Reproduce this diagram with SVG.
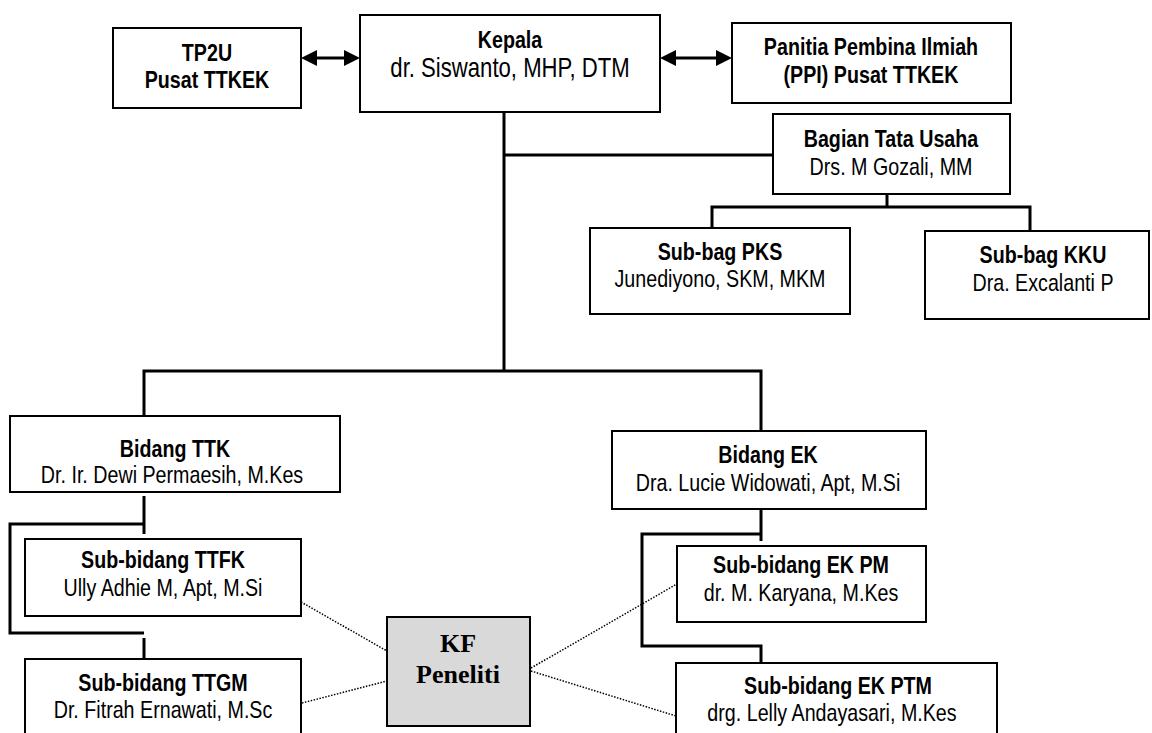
<svg xmlns="http://www.w3.org/2000/svg" width="1152" height="733" viewBox="0 0 1152 733">
<defs>
<style>
.box{fill:#fff;stroke:#000;stroke-width:2}
.kf{fill:#d9d9d9;stroke:#000;stroke-width:2}
.t{font-family:'Liberation Sans',Arial,sans-serif;font-size:24px;text-anchor:middle;fill:#000}
.b{font-weight:bold}
.big{font-size:27px}
.kt{font-family:'Liberation Serif','Times New Roman',serif;font-size:26px;font-weight:bold;text-anchor:middle;fill:#000}
.ln{fill:none;stroke:#000;stroke-width:3}
.dot{fill:none;stroke:#000;stroke-width:1.5;stroke-dasharray:1.5 1.5}
</style>
<marker id="ah" viewBox="0 0 16 16" refX="2" refY="8" markerWidth="16" markerHeight="16" markerUnits="userSpaceOnUse" orient="auto-start-reverse">
<path d="M0,0 L16,8 L0,16 z" fill="#000"/>
</marker>
</defs>
<rect width="1152" height="733" fill="#fff"/>
<g id="connectors">
<line class="ln" x1="315" y1="58" x2="346" y2="58" marker-start="url(#ah)" marker-end="url(#ah)"/>
<line class="ln" x1="674" y1="58" x2="718" y2="58" marker-start="url(#ah)" marker-end="url(#ah)"/>
<path class="ln" d="M504,112 V371"/>
<path class="ln" d="M504,155 H773"/>
<path class="ln" d="M887,194 V207"/>
<path class="ln" d="M712,228 V207 H1030 V231"/>
<path class="ln" d="M144,416 V371 H761 V431"/>
<path class="ln" d="M144,496 V534"/>
<path class="ln" d="M144,524 H10 V633 H144"/>
<path class="ln" d="M144,638 V661"/>
<path class="ln" d="M761,509 V541"/>
<path class="ln" d="M761,534 H642 V646 H761 V663"/>
<path class="dot" d="M301,602 L387,651"/>
<path class="dot" d="M302,703 L387,681"/>
<path class="dot" d="M531,668 L677,584"/>
<path class="dot" d="M531,671 L676,716"/>
</g>
<g id="tp2u"><rect class="box" x="113" y="28" width="188" height="80"/>
<text class="t b" transform="scale(0.82 1)" x="252.44" y="61">TP2U</text><text class="t b" transform="scale(0.82 1)" x="252.44" y="88">Pusat TTKEK</text></g>
<g id="kepala"><rect class="box" x="360" y="15" width="300" height="97"/>
<text class="t b" transform="scale(0.82 1)" x="621.95" y="48">Kepala</text><text class="t big" transform="scale(0.82 1)" x="621.95" y="77">dr. Siswanto, MHP, DTM</text></g>
<g id="ppi"><rect class="box" x="732" y="23" width="279" height="80"/>
<text class="t b" transform="scale(0.82 1)" x="1062.2" y="55">Panitia Pembina Ilmiah</text><text class="t b" transform="scale(0.82 1)" x="1062.2" y="83">(PPI) Pusat TTKEK</text></g>
<g id="tatausaha"><rect class="box" x="773" y="114" width="237" height="80"/>
<text class="t b" transform="scale(0.82 1)" x="1086.59" y="147">Bagian Tata Usaha</text><text class="t" transform="scale(0.82 1)" x="1086.59" y="175">Drs. M Gozali, MM</text></g>
<g id="pks"><rect class="box" x="590" y="228" width="260" height="86"/>
<text class="t b" transform="scale(0.82 1)" x="878.05" y="260">Sub-bag PKS</text><text class="t" transform="scale(0.82 1)" x="878.05" y="287">Junediyono, SKM, MKM</text></g>
<g id="kku"><rect class="box" x="925" y="231" width="224" height="88"/>
<text class="t b" transform="scale(0.82 1)" x="1271.95" y="263">Sub-bag KKU</text><text class="t" transform="scale(0.82 1)" x="1271.95" y="291">Dra. Excalanti P</text></g>
<g id="ttk"><rect class="box" x="10" y="416" width="330" height="76"/>
<text class="t b" transform="scale(0.82 1)" x="213.41" y="457">Bidang TTK</text><text class="t" transform="scale(0.82 1)" x="209.76" y="483">Dr. Ir. Dewi Permaesih, M.Kes</text></g>
<g id="ek"><rect class="box" x="612" y="431" width="314" height="78"/>
<text class="t b" transform="scale(0.82 1)" x="936.59" y="463">Bidang EK</text><text class="t" transform="scale(0.82 1)" x="936.59" y="491">Dra. Lucie Widowati, Apt, M.Si</text></g>
<g id="ttfk"><rect class="box" x="25" y="539" width="276" height="77"/>
<text class="t b" transform="scale(0.82 1)" x="198.78" y="568">Sub-bidang TTFK</text><text class="t" transform="scale(0.82 1)" x="198.78" y="596">Ully Adhie M, Apt, M.Si</text></g>
<g id="ttgm"><rect class="box" x="25" y="659" width="276" height="90"/>
<text class="t b" transform="scale(0.82 1)" x="198.78" y="691">Sub-bidang TTGM</text><text class="t" transform="scale(0.82 1)" x="198.78" y="718">Dr. Fitrah Ernawati, M.Sc</text></g>
<g id="ekpm"><rect class="box" x="677" y="546" width="249" height="76"/>
<text class="t b" transform="scale(0.82 1)" x="976.83" y="573">Sub-bidang EK PM</text><text class="t" transform="scale(0.82 1)" x="976.83" y="601">dr. M. Karyana, M.Kes</text></g>
<g id="ekptm"><rect class="box" x="676" y="663" width="321" height="90"/>
<text class="t b" transform="scale(0.82 1)" x="1021.95" y="694">Sub-bidang EK PTM</text><text class="t" transform="scale(0.82 1)" x="1014.63" y="721">drg. Lelly Andayasari, M.Kes</text></g>
<g id="kf"><rect class="kf" x="387" y="617" width="143" height="109"/>
<text class="kt" x="458" y="652">KF</text><text class="kt" x="458" y="683">Peneliti</text></g>
</svg>
